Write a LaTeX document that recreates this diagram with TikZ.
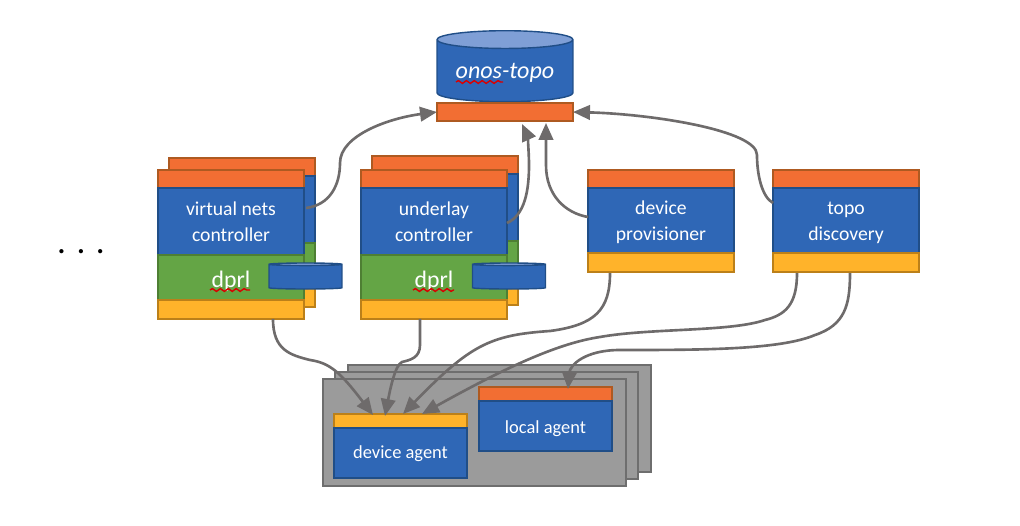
\documentclass[tikz,border=0pt]{standalone}
\usepackage{fontspec}
\setmainfont{Carlito}
\usetikzlibrary{positioning, shapes.geometric, arrows.meta, decorations.pathmorphing}
\definecolor{layerblue}{RGB}{47,103,182}
\definecolor{layerblueline}{RGB}{32,78,135}
\definecolor{layertop}{RGB}{127,159,214}
\definecolor{apiorange}{RGB}{242,110,51}
\definecolor{apiorangeline}{RGB}{174,90,33}
\definecolor{dprlgreen}{RGB}{100,165,69}
\definecolor{dprlgreenline}{RGB}{78,127,51}
\definecolor{sbyellow}{RGB}{255,179,42}
\definecolor{sbyellowline}{RGB}{188,128,25}
\definecolor{cardgrey}{RGB}{155,155,155}
\definecolor{cardgreyline}{RGB}{110,110,110}
\definecolor{flowgrey}{RGB}{110,107,107}

\begin{document}
\begin{tikzpicture}[x=0.02cm, y=-0.02cm, >={Triangle[length=3.4mm,width=2.9mm]},
  every node/.style={inner sep=0pt, outer sep=0pt, text=white, font=\fontsize{11.2}{14.8}\selectfont, align=center},
  orangebar/.style={draw=apiorangeline, line width=0.8pt, fill=apiorange, minimum width=2.92cm, minimum height=0.36cm},
  bluebox/.style={draw=layerblueline, line width=0.8pt, fill=layerblue, minimum width=2.92cm, minimum height=1.34cm},
  greenbox/.style={draw=dprlgreenline, line width=0.8pt, fill=dprlgreen, minimum width=2.92cm, minimum height=0.9cm, font=\fontsize{13.5}{14}\selectfont},
  yellowbar/.style={draw=sbyellowline, line width=0.8pt, fill=sbyellow, minimum width=2.92cm, minimum height=0.38cm},
  store/.style={shape=cylinder, shape border rotate=90, draw=layerblueline, line width=0.8pt, cylinder uses custom fill, cylinder body fill=layerblue, cylinder end fill=layertop},
  card/.style={draw=cardgreyline, line width=0.9pt, fill=cardgrey, anchor=north west, minimum width=6.06cm, minimum height=2.14cm},
  flow/.style={->, draw=flowgrey, line width=1.5pt},
  squiggle/.style={draw=red!85!black, line width=0.8pt, decorate, decoration={snake, amplitude=0.8pt, segment length=4.5pt}}]

  \useasboundingbox (0,0) rectangle (1020,526);

  % topo store
  \node[store, aspect=0.18, minimum width=2.72cm, minimum height=1.42cm, font=\fontsize{13.7}{14}\selectfont\itshape] (onostopo) at (505,71) {\raisebox{-4.5pt}[0pt][0pt]{onos-topo}};
  \node[orangebar, minimum width=2.72cm] (onosapi) at (505,112) {};

  % virtual nets controller
  \node[orangebar, anchor=north west] (vncbacktop) at (169,158) {};
  \node[bluebox, below=0pt of vncbacktop] (vncbackblue) {};
  \node[greenbox, below=0pt of vncbackblue] (vncbackgreen) {};
  \node[yellowbar, below=0pt of vncbackgreen] (vncbackyellow) {};
  \node[orangebar, anchor=north west] (vnctop) at (158,170) {};
  \node[bluebox, below=0pt of vnctop] (vnc) {virtual nets\\ controller};
  \node[greenbox, below=0pt of vnc] (vncdprl) {\raisebox{-5.8pt}[0pt][0pt]{dprl}};
  \node[yellowbar, below=0pt of vncdprl] (vncyellow) {};
  \node[store, aspect=0.3, minimum width=1.46cm, minimum height=0.52cm] (vncstore) at (305.5,277) {\phantom{x}};

  % underlay controller
  \node[orangebar, anchor=north west] (ulcbacktop) at (372,156) {};
  \node[bluebox, below=0pt of ulcbacktop] (ulcbackblue) {};
  \node[greenbox, below=0pt of ulcbackblue] (ulcbackgreen) {};
  \node[yellowbar, below=0pt of ulcbackgreen] (ulcbackyellow) {};
  \node[orangebar, anchor=north west] (ulctop) at (361,170) {};
  \node[bluebox, below=0pt of ulctop] (ulc) {underlay\\ controller};
  \node[greenbox, below=0pt of ulc] (ulcdprl) {\raisebox{-5.8pt}[0pt][0pt]{dprl}};
  \node[yellowbar, below=0pt of ulcdprl] (ulcyellow) {};
  \node[store, aspect=0.3, minimum width=1.46cm, minimum height=0.52cm] (ulcstore) at (509,277) {\phantom{x}};

  % provisioner and discovery
  \node[orangebar, anchor=north west] (provtop) at (588,170) {};
  \node[bluebox, minimum height=1.3cm, below=0pt of provtop] (prov) {\rule{0pt}{10pt}device\\ provisioner};
  \node[yellowbar, below=0pt of prov] (provyellow) {};
  \node[orangebar, anchor=north west] (topotop) at (773,170) {};
  \node[bluebox, minimum height=1.3cm, below=0pt of topotop] (topo) {\rule{0pt}{10pt}topo\\ discovery};
  \node[yellowbar, below=0pt of topo] (topoyellow) {};

  % device cards
  \node[card] (cardback) at (348,365) {};
  \node[card] (cardmid) at (335,372) {};
  \node[card] (cardfront) at (323,379) {};
  \node[yellowbar, minimum width=2.66cm, minimum height=0.28cm, anchor=north west] (agentyellow) at (334,414) {};
  \node[bluebox, minimum width=2.66cm, minimum height=1cm, font=\fontsize{10.5}{14}\selectfont, below=0pt of agentyellow] (agent) {\raisebox{-3.4pt}[0pt][0pt]{device agent}};
  \node[orangebar, minimum width=2.66cm, minimum height=0.28cm, anchor=north west] (localtop) at (479,387) {};
  \node[bluebox, minimum width=2.66cm, minimum height=1cm, font=\fontsize{10.5}{14}\selectfont, below=0pt of localtop] (local) {\raisebox{-4pt}[0pt][0pt]{local agent}};

  \node[text=black, font=\fontsize{20}{20}\selectfont] (more) at (81,252) {. . .};

  % spell check marks
  \draw[squiggle] (456,82) -- (503,82);
  \draw[squiggle] (210,290) -- (250,290);
  \draw[squiggle] (413,290) -- (454,290);

  % free ends of the connectors
  \coordinate (vncout) at (306,208);
  \coordinate (ulcout) at (507,223);
  \coordinate (provout) at (588,217);
  \coordinate (topoout) at (773,203);
  \coordinate (ulcin) at (522,124);
  \coordinate (provin) at (546,123);
  \coordinate (vncdown) at (273,319);
  \coordinate (ulcdown) at (420,319);
  \coordinate (provdown) at (610,273);
  \coordinate (topodowna) at (797,273);
  \coordinate (topodownb) at (850,273);
  \coordinate (agentina) at (373,415);
  \coordinate (agentinb) at (385,416);
  \coordinate (agentinc) at (403,414);
  \coordinate (agentind) at (422,414);
  \coordinate (localin) at (568,389);

  \draw[flow] (vncout) .. controls (330,205) and (340,185) .. (340,163) .. controls (340,135) and (390,118) .. (onosapi.west);
  \draw[flow] (ulcout) .. controls (525,215) and (529,190) .. (529,165) .. controls (529,150) and (527,135) .. (ulcin);
  \draw[flow] (provout) .. controls (565,213) and (546,195) .. (546,165) -- (provin);
  \draw[flow] (topoout) .. controls (762,197) and (757,175) .. (757,155) .. controls (757,130) and (650,114) .. (onosapi.east);

  \draw[flow] (vncdown) .. controls (273,350) and (290,355) .. (310,360) .. controls (330,363) and (340,372) .. (agentina);
  \draw[flow] (ulcdown) -- (420,345) .. controls (420,358) and (410,360) .. (402,362) .. controls (395,365) and (390,390) .. (agentinb);
  \draw[flow] (provdown) .. controls (610,310) and (595,325) .. (550,331) .. controls (490,335) and (470,345) .. (agentinc);
  \draw[flow] (topodowna) .. controls (797,305) and (785,315) .. (765,320) .. controls (730,332) and (650,328) .. (600,337) .. controls (560,343) and (510,365) .. (agentind);
  \draw[flow] (topodownb) .. controls (850,305) and (845,325) .. (815,335) .. controls (780,350) and (700,350) .. (620,350) .. controls (585,350) and (570,365) .. (localin);
\end{tikzpicture}
\end{document}
